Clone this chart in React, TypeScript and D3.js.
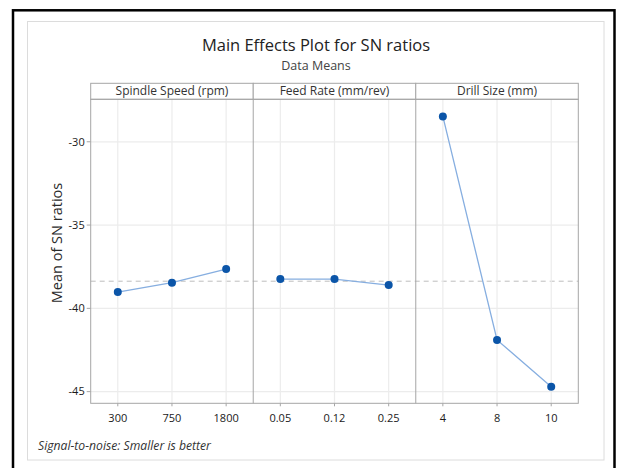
import React from 'react';
import { scaleLinear, scalePoint, line } from 'd3';

// factor names and their levels
const factors = ['Spindle Speed (rpm)', 'Feed Rate (mm/rev)', 'Drill Size (mm)'];
const spindleLevels = ['300', '750', '1800'];
const feedLevels = ['0.05', '0.12', '0.25'];
const drillLevels = ['4', '8', '10'];

// mean SN ratios per level
const spindleMeans = [-39.02, -38.46, -37.64];
const feedMeans = [-38.24, -38.24, -38.6];
const drillMeans = [-28.48, -41.9, -44.7];

const grandMean = -38.37;
const yTicks = [-30, -35, -40, -45];

const font = '"Open Sans", "Noto Sans", sans-serif';

const App = () => {
    const width = 618;
    const height = 468;
    const plotLeft = 90.7;
    const plotRight = 578.3;
    const stripTop = 83.3;
    const plotTop = 99.3;
    const plotBottom = 403.3;
    const panelWidth = (plotRight - plotLeft) / factors.length;

    const panels = [
        { name: factors[0], levels: spindleLevels, values: spindleMeans },
        { name: factors[1], levels: feedLevels, values: feedMeans },
        { name: factors[2], levels: drillLevels, values: drillMeans },
    ];

    const yScale = scaleLinear()
        .domain([-45.7, -27.45])
        .range([plotBottom, plotTop]);

    const gridColor = '#ececec';
    const borderColor = '#a6a6a6';

    return (
        <svg width={width} height={height} style={{ position: 'absolute', left: 0, top: 0, background: '#fff' }}>
            <rect x={0} y={0} width={width} height={height} fill="#fff" />
            {/* outer frames */}
            <rect x={13} y={10.3} width={601.5} height={470} fill="none" stroke="#000" strokeWidth={2.5} />
            <rect x={27.5} y={21.5} width={576.5} height={438.5} fill="none" stroke="#dcdcdc" strokeWidth={1} />

            <text x={316} y={51} textAnchor="middle" fontFamily={font} fontSize={16.5} fill="#222">
                Main Effects Plot for SN ratios
            </text>
            <text x={316} y={70} textAnchor="middle" fontFamily={font} fontSize={12.5} fill="#444">
                Data Means
            </text>

            {/* horizontal grid */}
            {yTicks.map(t =>
                <line key={`hg-${t}`} x1={plotLeft} x2={plotRight} y1={yScale(t)} y2={yScale(t)}
                    stroke={gridColor} strokeWidth={1.2} />
            )}

            {/* grand mean reference */}
            <line x1={plotLeft} x2={plotRight} y1={yScale(grandMean)} y2={yScale(grandMean)}
                stroke="#bdbdbd" strokeWidth={1} strokeDasharray="5,4" />

            {panels.map((p, i) => {
                const x0 = plotLeft + i * panelWidth;
                const xScale = scalePoint<string>()
                    .domain(p.levels)
                    .range([x0, x0 + panelWidth])
                    .padding(0.5);
                const pts = p.levels.map((lv, j) => [xScale(lv) as number, yScale(p.values[j])] as [number, number]);
                const path = line()(pts) || '';
                return (
                    <g key={`panel-${i}`}>
                        {p.levels.map(lv =>
                            <g key={`vx-${lv}`}>
                                <line x1={xScale(lv)} x2={xScale(lv)} y1={plotTop} y2={plotBottom}
                                    stroke={gridColor} strokeWidth={1.2} />
                                <line x1={xScale(lv)} x2={xScale(lv)} y1={plotBottom} y2={plotBottom + 3}
                                    stroke={borderColor} strokeWidth={1} />
                                <text x={xScale(lv)} y={plotBottom + 19} textAnchor="middle"
                                    fontFamily={font} fontSize={11} fill="#1a1a1a">
                                    {lv}
                                </text>
                            </g>
                        )}
                        <rect x={x0} y={stripTop} width={panelWidth} height={plotTop - stripTop}
                            fill="#fff" stroke={borderColor} strokeWidth={1} />
                        <text x={x0 + panelWidth / 2} y={stripTop + 12} textAnchor="middle"
                            fontFamily={font} fontSize={12} fill="#333">
                            {p.name}
                        </text>
                        <path d={path} fill="none" stroke="#86aee0" strokeWidth={1.3} />
                        {pts.map((pt, j) =>
                            <circle key={`pt-${j}`} cx={pt[0]} cy={pt[1]} r={4} fill="#0b55a8" />
                        )}
                        {i > 0 &&
                            <line x1={x0} x2={x0} y1={plotTop} y2={plotBottom} stroke={borderColor} strokeWidth={1} />
                        }
                    </g>
                );
            })}

            {/* plot frame */}
            <rect x={plotLeft} y={plotTop} width={plotRight - plotLeft} height={plotBottom - plotTop}
                fill="none" stroke={borderColor} strokeWidth={1} />

            {/* y axis */}
            {yTicks.map(t =>
                <g key={`yt-${t}`} transform={`translate(${plotLeft}, ${yScale(t)})`}>
                    <line x1={-4} x2={0} stroke={borderColor} strokeWidth={1} />
                    <text x={-6} dy="0.35em" textAnchor="end" fontFamily={font} fontSize={11} fill="#1a1a1a">
                        {t}
                    </text>
                </g>
            )}
            <text transform={`translate(62, 243) rotate(-90)`} textAnchor="middle"
                fontFamily={font} fontSize={14.5} fill="#2a2a2a">
                Mean of SN ratios
            </text>

            <text x={38} y={450} fontFamily={font} fontSize={12.2} fontStyle="italic" fill="#333">
                Signal-to-noise: Smaller is better
            </text>
        </svg>
    );
};

export default App;
